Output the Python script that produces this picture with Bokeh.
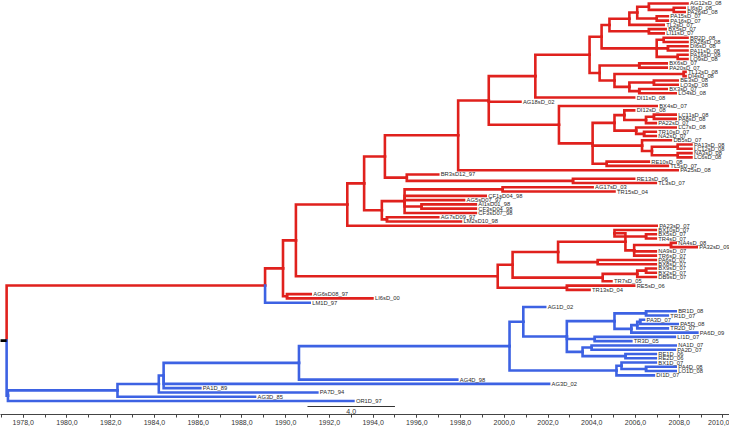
from bokeh.plotting import figure
from bokeh.models import Range1d, FixedTicker, CustomJSTickFormatter, ColumnDataSource
from bokeh.embed import file_html
from bokeh.resources import INLINE
from bokeh.core.properties import value

# ---------------- data ----------------
tip_names = [
    "AG12sD_08", "LI6sD_08", "PA26sD_08", "PA15sD_07", "PA16sD_07", "TL2sD_07", "BX5sD_07", "LI11sD_07",
    "BR2D_08", "PA28sD_08", "DI6sD_08", "PA11sD_08", "PA16sD_08", "LO9sD_08", "BX6sD_07", "PA20sD_07",
    "TL12sD_08", "DI4sD_08", "BE3sD_08", "LO3sD_08", "BX3sD_07", "LO4sD_08", "DI11sD_08", "AG18sD_02",
    "BX4sD_07", "DI12sD_08", "LC11sD_08", "PA8sD_08", "PA22sD_07", "LC7sD_08", "TR10sD_07", "NA2sD_07",
    "DB5sD_07", "PA13sD_08", "LC12sD_08", "NA3sD_08", "LC6sD_08", "RE10sD_08", "TL5sD_07", "PA25sD_08",
    "BR3sD12_97", "RE13sD_06", "TL3sD_07", "AG17sD_03", "TR15sD_04", "CF1sD04_98", "AG5sD07_97",
    "AI1sD01_98", "CF3sD04_98", "CF3sD07_98", "AG7sD09_97", "LM2sD10_98",
    "PA23sD_07", "BX10sD_07", "BX5sD_07b", "TR4sD_07", "NA4sD_08", "PA32sD_09", "NA9sD_07", "TR6sD_07",
    "PA6sD_07", "BX8sD_07", "BX9sD_07", "BX2sD_07", "DB9sD_07", "TR7sD_05", "RE5sD_06", "TR13sD_04",
    "AG6sD08_97", "LI6sD_00", "LM1D_97",
    "AG1D_02", "BR1D_08", "TR1D_07", "PA3D_07", "PA5D_08", "TR2D_07", "PA6D_09", "LI1D_07", "TR3D_05",
    "NA1D_07", "PA2D_07", "RE1D_06", "RE2D_06", "BX1D_07", "PA4D_08", "LO1D_08", "DI1D_07",
    "AG4D_98", "AG3D_02", "PA1D_89", "PA7D_94", "AG3D_85", "OR1D_97",
]
tip_dates = [
    2008.38, 2008.25, 2008.25, 2007.48, 2007.48, 2007.29, 2007.38, 2007.29,
    2008.38, 2008.38, 2008.38, 2008.38, 2008.38, 2008.38, 2007.43, 2007.43,
    2008.29, 2008.29, 2007.93, 2007.93, 2007.43, 2007.84, 2005.94, 2000.74,
    2006.97, 2005.94, 2007.84, 2007.84, 2006.93, 2007.84, 2006.93, 2006.93,
    2007.62, 2008.56, 2008.56, 2008.56, 2008.56, 2006.61, 2007.48, 2007.93,
    1996.98, 2005.94, 2006.93, 2004.04, 2005.04, 1999.15, 1998.16,
    1998.70, 1998.70, 1998.70, 1996.98, 1998.02,
    2006.97, 2006.93, 2006.93, 2006.93, 2007.84, 2008.80, 2006.93, 2006.93,
    2006.93, 2006.93, 2006.93, 2006.93, 2006.93, 2004.90, 2005.94, 2003.90,
    1991.15, 1993.97, 1991.10,
    2001.87, 2007.84, 2007.48, 2006.39, 2007.93, 2007.48, 2008.83, 2007.80, 2005.81,
    2007.84, 2007.80, 2006.93, 2006.93, 2006.93, 2007.84, 2007.84, 2006.84,
    1997.85, 2002.05, 1986.10, 1991.45, 1988.60, 1993.10,
]
tip_labels = [n.replace("BX5sD_07b", "BX5sD_07") for n in tip_names]

# internal nodes: name, date (year), children (top to bottom)
node_names = [
    "ROOT", "BLUE0", "N1982", "NA", "NB", "N305", "N519", "N533", "N577", "N625", "N657a",
    "N642", "N648", "N655", "N605", "N593", "N602", "N636", "N627", "N632", "N657b",
    "R0", "R1", "RL", "R2", "R3", "R5", "TOP2", "BR3N", "RETL", "TOP1",
    "Na", "Na1", "Nb", "Nc", "Nf", "Ne", "Ng", "Nh", "Ni", "Nj", "Nk", "Nl",
    "Nm", "Nn", "No", "Np", "Nq", "Nr", "Ns", "Nt", "Nu", "Nv",
    "Nx", "Ny", "Nz", "Nab", "Naa", "Nad", "Nae", "Naf", "Nag", "Nah", "Nai", "Nak", "Nal",
    "CF0", "CF1", "AGTR", "AICF", "CFb",
    "R4", "U", "A", "Q3", "Q1", "BXTR", "Q2", "NAPA", "Q4", "B", "Q5", "Q5a", "RT",
]
node_dates = [
    1977.24, 1977.30, 1982.31, 1984.20, 1984.42, 1990.61, 2000.24, 2000.87, 2002.86, 2005.04, 2006.48,
    2005.81, 2006.08, 2006.21, 2004.13, 2003.58, 2003.99, 2005.54, 2005.13, 2005.36, 2006.48,
    1989.06, 1989.88, 1990.06, 1990.47, 1992.82, 1993.59, 1994.54, 1995.54, 2003.14, 1997.89,
    2006.61, 2007.75, 2006.97, 2006.08, 2005.72, 2006.61, 2004.81, 2007.29, 2007.48, 2007.93, 2006.97, 2004.45,
    2006.17, 2008.20, 2006.84, 2006.17, 2005.72, 2005.04, 2004.36, 2003.90, 2001.42, 1999.29,
    2006.84, 2006.48, 2005.49, 2006.39, 2006.03, 2005.04, 2007.93, 2007.93, 2006.75, 2006.30, 2004.68, 2004.04, 2002.50,
    1994.40, 1995.44, 1999.92, 1996.21, 1994.63,
    1999.70, 2000.38, 2002.46, 2005.54, 2005.04, 2006.48, 2005.94, 2007.62, 2004.27, 2004.50, 2006.08, 2006.48, 2002.86,
]
node_children = [
    ["R0", "BLUE0"], ["N1982", "OR1D_97"], ["NA", "AG3D_85"], ["NB", "PA7D_94"],
    ["N305", "AG3D_02", "PA1D_89"], ["N519", "AG4D_98"], ["N533", "N627"], ["AG1D_02", "N577"],
    ["N625", "N605", "N593"], ["N657a", "N642"], ["BR1D_08", "TR1D_07"],
    ["N648", "PA6D_09"], ["N655", "TR2D_07"], ["PA3D_07", "PA5D_08"], ["LI1D_07", "TR3D_05"],
    ["N602", "N636"], ["NA1D_07", "PA2D_07"], ["RE1D_06", "RE2D_06"], ["N632", "DI1D_07"],
    ["BX1D_07", "N657b"], ["PA4D_08", "LO1D_08"],
    ["R1", "LM1D_97"], ["R2", "RL"], ["AG6sD08_97", "LI6sD_00"], ["R3", "R4"], ["R5", "PA23sD_07"],
    ["TOP2", "CF0"], ["TOP1", "BR3N"], ["BR3sD12_97", "RETL"], ["RE13sD_06", "TL3sD_07"], ["Nv", "PA25sD_08"],
    ["AG12sD_08", "Na1"], ["LI6sD_08", "PA26sD_08"], ["PA15sD_07", "PA16sD_07"], ["Na", "Nb"],
    ["Nc", "TL2sD_07"], ["BX5sD_07", "LI11sD_07"], ["Nf", "Ne"], ["BR2D_08", "PA28sD_08"],
    ["DI6sD_08", "PA11sD_08"], ["PA16sD_08", "LO9sD_08"], ["Nh", "Ni", "Nj"], ["Ng", "Nk"],
    ["BX6sD_07", "PA20sD_07"], ["TL12sD_08", "DI4sD_08"], ["BE3sD_08", "LO3sD_08"], ["BX3sD_07", "LO4sD_08"],
    ["No", "Np"], ["Nn", "Nq"], ["Nm", "Nr"], ["Nl", "Ns"], ["Nt", "DI11sD_08"], ["Nu", "AG18sD_02", "Nal"],
    ["LC11sD_08", "PA8sD_08"], ["Nx", "PA22sD_07"], ["DI12sD_08", "Ny"], ["TR10sD_07", "NA2sD_07"],
    ["LC7sD_08", "Nab"], ["Nz", "Naa"], ["PA13sD_08", "LC12sD_08"], ["NA3sD_08", "LC6sD_08"],
    ["Nae", "Naf"], ["DB5sD_07", "Nag"], ["RE10sD_08", "TL5sD_07"], ["Nad", "Nah", "Nai"],
    ["BX4sD_07", "Nak"],
    ["CF1", "CFb"], ["AGTR", "CF1sD04_98", "AG5sD07_97", "AICF", "CF3sD07_98"], ["AG17sD_03", "TR15sD_04"],
    ["AI1sD01_98", "CF3sD04_98"], ["AG7sD09_97", "LM2sD10_98"],
    ["U", "RT"], ["A", "B"], ["Q3", "Q4"], ["Q1", "Q2"], ["BX10sD_07", "BXTR"], ["BX5sD_07b", "TR4sD_07"],
    ["NAPA", "NA9sD_07", "TR6sD_07"], ["NA4sD_08", "PA32sD_09"], ["PA6sD_07", "BX8sD_07"],
    ["Q5", "TR7sD_05"], ["Q5a", "DB9sD_07"], ["BX9sD_07", "BX2sD_07"], ["RE5sD_06", "TR13sD_04"],
]
blue_clades = ["BLUE0", "LM1D_97"]

axis_ticks = list(range(1978, 2011, 2))
axis_minor = list(range(1977, 2011, 1))
scale_bar = (1991.0, 1995.0)
scale_label = "4.0"

# ---------------- layout ----------------
RED = "#e0211d"
BLUE = "#3d62e3"

dates = dict(zip(tip_names, tip_dates))
dates.update(zip(node_names, node_dates))
children = dict(zip(node_names, node_children))
ypos = {n: float(i) for i, n in enumerate(tip_names)}


def get_y(n):
    if n not in ypos:
        ys = [get_y(c) for c in children[n]]
        ypos[n] = (ys[0] + ys[-1]) / 2.0
    return ypos[n]


get_y("ROOT")

colour = {}


def paint(n, col):
    if n in blue_clades:
        col = BLUE
    colour[n] = col
    for c in children.get(n, []):
        paint(c, col)


paint("ROOT", RED)

xs, ys, cols = [], [], []
for parent, kids in zip(node_names, node_children):
    px, py = dates[parent], ypos[parent]
    for c in kids:
        xs.append([px, px, dates[c]])
        ys.append([py, ypos[c], ypos[c]])
        cols.append(colour[c])

W, FH = 729, 414
x0, x1 = 1976.96, 2010.30
y_top, y_bot = -0.70, 96.16

p = figure(frame_width=W, frame_height=FH, output_backend="svg", toolbar_location=None,
           x_range=Range1d(x0, x1), y_range=Range1d(y_bot, y_top),
           min_border_left=0, min_border_right=0, min_border_top=0, min_border_bottom=0,
           y_axis_location=None, x_axis_location="below")
p.grid.visible = False
p.outline_line_color = None
p.background_fill_color = "white"
p.border_fill_color = "white"

src = ColumnDataSource(dict(xs=xs, ys=ys, c=cols))
p.multi_line("xs", "ys", line_color="c", line_width=2.6, line_join="miter", line_cap="square", source=src)

root_y = ypos["ROOT"]
p.segment(x0=[dates["ROOT"] - 0.3], y0=[root_y], x1=[dates["ROOT"]], y1=[root_y],
          line_color="black", line_width=2.6)

tsrc = ColumnDataSource(dict(x=tip_dates, y=list(range(len(tip_names))), t=tip_labels))
p.text("x", "y", text="t", source=tsrc, x_offset=2.5, text_baseline="middle", text_align="left",
       text_font=value("Liberation Sans"), text_font_size="5.8px", text_color="#2a2a2a")

sb_y = 94.29
p.segment(x0=[scale_bar[0]], y0=[sb_y], x1=[scale_bar[1]], y1=[sb_y], line_color="#333333", line_width=1)
p.text(x=[(scale_bar[0] + scale_bar[1]) / 2], y=[95.46], text=[scale_label], text_align="center",
       text_baseline="middle", text_font=value("Liberation Sans"), text_font_size="7px",
       text_color="#333333")

ax = p.xaxis[0]
ax.ticker = FixedTicker(ticks=axis_ticks, minor_ticks=axis_minor)
ax.formatter = CustomJSTickFormatter(code="return tick.toFixed(1).replace('.', ',');")
ax.axis_line_color = "#444444"
ax.major_tick_line_color = "#444444"
ax.minor_tick_line_color = "#444444"
ax.major_tick_out = 3
ax.major_tick_in = 0
ax.minor_tick_out = 3
ax.minor_tick_in = 0
ax.major_label_standoff = 2
ax.major_label_text_font = "Liberation Sans"
ax.major_label_text_font_size = "7px"
ax.major_label_text_color = "#333333"

open("out.html", "w").write(file_html(p, INLINE))
